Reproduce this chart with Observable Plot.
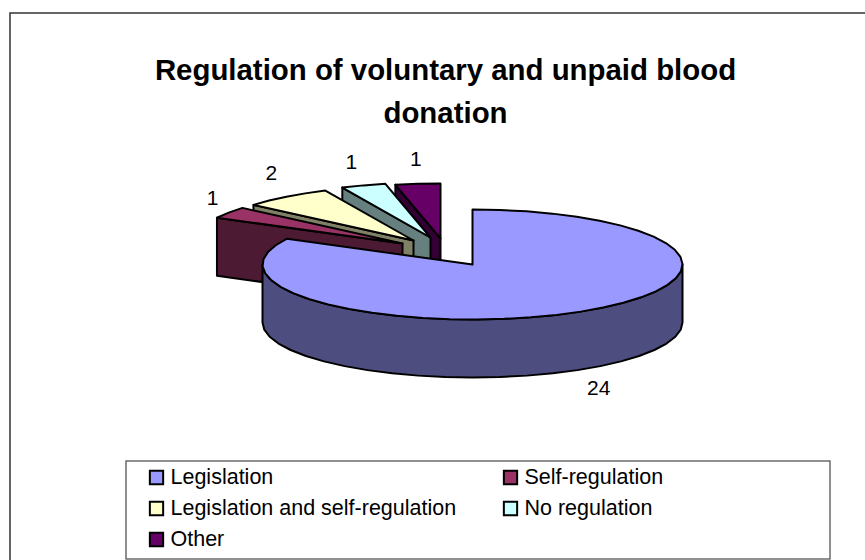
<!DOCTYPE html>
<html><head><meta charset="utf-8">
<script src="https://cdn.jsdelivr.net/npm/d3@7"></script>
<script src="https://cdn.jsdelivr.net/npm/@observablehq/plot@0.6"></script>
<style>html,body{margin:0;padding:0;background:#fff;overflow:hidden}svg{display:block}</style>
</head><body><div id="chart"></div>
<script>
const titleLines = ["Regulation of voluntary and unpaid blood", "donation"];
const categories = ["Legislation", "Self-regulation", "Legislation and self-regulation", "No regulation", "Other"];
const values = [24, 1, 2, 1, 1];
const topColors = ["#9999FF", "#993366", "#FFFFCC", "#CCFFFF", "#660066"];
const wallColors = ["#4D4D80", "#4D1A33", "#808066", "#668080", "#330033"];

// Layout of the tilted pie (pixels)
const CX = 472, CY = 264, RX = 210, RY = 55, DEPTH = 58;
const shiftX = [0, -70, -59, -42, -32];
const shiftY = [0, -21, -24, -27, -26];
const labelNudgeX = [18, -16, -15, -12, -2];
const labelNudgeY = [19, -14, -23, -23, -25];

const total = d3.sum(values);
const cum = d3.cumsum(values);
const slices = values.map((v, i) => {
  const a0 = (cum[i] - v) / total * 2 * Math.PI, a1 = cum[i] / total * 2 * Math.PI;
  return {i, v, a0, a1, ax: CX + shiftX[i], ay: CY + shiftY[i]};
});
const rim = (s, a) => [s.ax + RX * Math.sin(a), s.ay - RY * Math.cos(a)];
const arcPts = (s, a0, a1) => {
  const n = Math.max(2, Math.ceil(Math.abs(a1 - a0) / (Math.PI / 24)));
  return d3.range(n + 1).map(k => rim(s, a0 + (a1 - a0) * k / n));
};
const shapes = [];
const add = (id, fill, pts) => shapes.push({id, fill, pts: pts.concat([pts[0]])});

// back-to-front: Other, No regulation, Legislation+self, Self, Legislation
for (const i of [4, 3, 2, 1]) {
  const s = slices[i];
  const p = rim(s, s.a0);
  add("w" + i, wallColors[i], [p, [s.ax, s.ay], [s.ax, s.ay + DEPTH], [p[0], p[1] + DEPTH]]);
  add("t" + i, topColors[i], [[s.ax, s.ay], ...arcPts(s, s.a0, s.a1)]);
}
const m = slices[0];
const front = arcPts(m, Math.PI / 2, 3 * Math.PI / 2);
add("w0", wallColors[0], [...front, ...front.slice().reverse().map(p => [p[0], p[1] + DEPTH])]);
add("t0", topColors[0], [[m.ax, m.ay], ...arcPts(m, m.a0, m.a1)]);

const rows = shapes.flatMap((sh, order) => sh.pts.map(p => ({id: order, fill: sh.fill, x: p[0], y: p[1]})));

const labels = slices.map((s, i) => {
  const mid = (s.a0 + s.a1) / 2;
  const p = rim(s, mid);
  return {text: String(s.v), x: p[0] + labelNudgeX[i], y: p[1] + (i === 0 ? DEPTH : 0) + labelNudgeY[i]};
});

const legendCols = [156, 510], legendRows = [477, 508, 539];
const legendItems = [[0,0],[1,0],[0,1],[1,1],[0,2]].map(([c, r], i) => ({
  name: categories[i], fill: topColors[i], x: legendCols[c], y: legendRows[r]
}));

const FONT = "Liberation Sans, Arial, sans-serif";
const plot = Plot.plot({
  width: 865, height: 560, margin: 0,
  x: {domain: [0, 865], range: [0, 865], axis: null},
  y: {domain: [0, 560], range: [0, 560], axis: null},
  style: {background: "#fff", fontFamily: FONT},
  marks: [
    Plot.rect([{}], {x1: 10, x2: 880, y1: 13, y2: 575, fill: "#fff", stroke: "#333", strokeWidth: 1.5}),
    Plot.text(titleLines, {x: 445, y: (d, i) => 70 + i * 43, text: d => d, fontSize: 29.4, fontWeight: "bold", fill: "#000"}),
    Plot.line(rows, {x: "x", y: "y", z: "id", fill: "fill", stroke: "#000", strokeWidth: 2, strokeLinejoin: "round", curve: "linear"}),
    Plot.text(labels, {x: "x", y: "y", text: "text", fontSize: 21, fill: "#000"}),
    Plot.rect([{}], {x1: 126, x2: 830, y1: 461, y2: 559, fill: "#fff", stroke: "#555", strokeWidth: 1.3}),
    Plot.dot(legendItems, {x: "x", y: "y", symbol: "square", r: 7.5, fill: "fill", stroke: "#000", strokeWidth: 2}),
    Plot.text(legendItems, {x: d => d.x + 14, y: "y", text: "name", textAnchor: "start", fontSize: 21.5, fill: "#000"})
  ]
});
document.getElementById("chart").appendChild(plot);
</script></body></html>
